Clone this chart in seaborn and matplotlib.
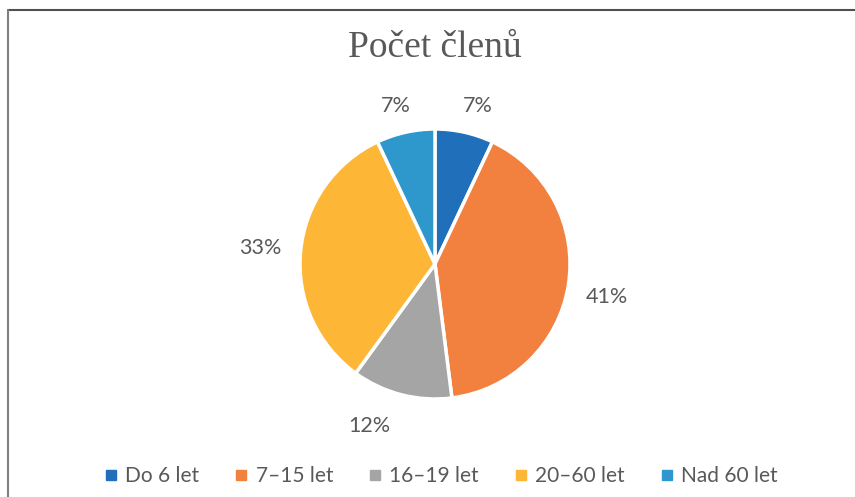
import matplotlib
matplotlib.use("Agg")
import matplotlib.pyplot as plt
from matplotlib.lines import Line2D
import seaborn as sns

# data
categories = ["Do 6 let", "7–15 let", "16–19 let", "20–60 let", "Nad 60 let"]
shares = [7, 41, 12, 33, 7]
colors = ["#1f6fba", "#f28140", "#a5a5a5", "#fdb636", "#2e98cd"]

sns.set_theme(style="white")
plt.rcParams['font.family'] = ['Lato', 'DejaVu Sans']

fig = plt.figure(figsize=(8.55, 4.97), dpi=100)

# frame lines (top and left) like the screenshot
fig.add_artist(Line2D([8 / 855, 1], [1 - 10 / 497, 1 - 10 / 497], color="#505050", lw=1.5))
fig.add_artist(Line2D([8 / 855, 8 / 855], [0, 1 - 10 / 497], color="#808080", lw=1.5))

ax = fig.add_axes([300 / 855, 1 - 399 / 497, 270 / 855, 270 / 497])
pal = sns.color_palette(colors)
wedges, texts, autotexts = ax.pie(
    shares, colors=pal, startangle=90, counterclock=False,
    autopct="%1.0f%%", pctdistance=1.24, radius=1,
    wedgeprops=dict(edgecolor="white", linewidth=2.5),
    textprops=dict(color="#595959", fontsize=15.5))
ax.set_xlim(-1, 1)
ax.set_ylim(-1, 1)

# small nudges so labels sit where Excel put them
nudges = [(0.05, -0.04), (0.05, -0.05), (-0.18, 0.0), (-0.06, 0.0), (-0.02, -0.04)]
for t, (dx, dy) in zip(autotexts, nudges):
    x, y = t.get_position()
    t.set_position((x + dx, y + dy))

fig.text(435 / 855, 1 - 48 / 497, "Počet členů", ha="center", va="center",
         fontsize=27, color="#595959", family="Liberation Serif")

handles = [plt.Line2D([], [], marker="s", linestyle="", markersize=6.5,
                      markerfacecolor=c, markeredgecolor=c) for c in colors]
fig.legend(handles, categories, loc="center", bbox_to_anchor=(440 / 855, 1 - 476 / 497),
           ncol=5, frameon=False, fontsize=15, labelcolor="#595959",
           handletextpad=0.3, columnspacing=1.6, handlelength=0.8)

fig.savefig("out.png", dpi=100)
